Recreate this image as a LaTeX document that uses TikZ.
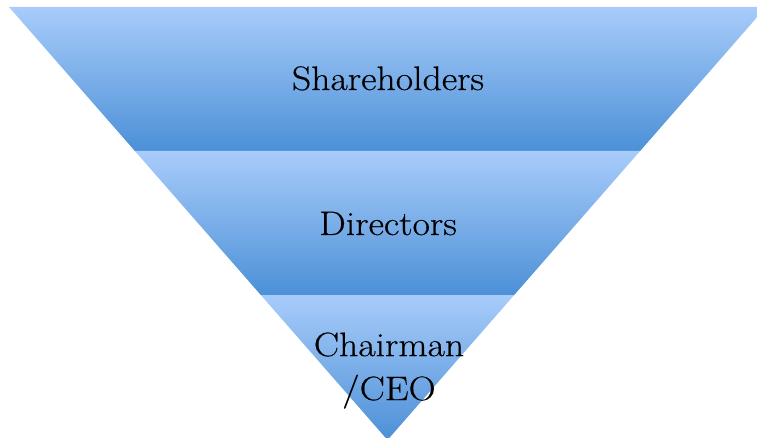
\documentclass[tikz,border=0pt]{standalone}
\usepackage{fontspec}
\newfontfamily\widefont[FakeStretch=1.11, FakeBold=0.4]{Latin Modern Roman}
\definecolor{bandtop}{RGB}{168,204,250}
\definecolor{bandbot}{RGB}{76,144,215}
\tikzset{
  band/.style={top color=bandtop, bottom color=bandbot, draw=none},
  label/.style={font=\widefont\fontsize{34}{44}\selectfont, text=black, inner sep=0pt, align=center}
}
\begin{document}
\begin{tikzpicture}[x=1pt,y=-1pt]
\useasboundingbox (0,0) rectangle (757,438);
\clip (0,0) rectangle (757,438);
% edges of the inverted triangle
\coordinate (tl) at (9,7);
\coordinate (tr) at (766,7);
\coordinate (apex) at (387.5,440);
\coordinate (l1) at (134.9,151);
\coordinate (r1) at (640.1,151);
\coordinate (l2) at (260.8,295);
\coordinate (r2) at (514.2,295);
\shade[band] (tl) -- (tr) -- (r1) -- (l1) -- cycle;
\shade[band] (l1) -- (r1) -- (r2) -- (l2) -- cycle;
\shade[band] (l2) -- (r2) -- (apex) -- cycle;
\node[label, anchor=base] (share) at (388,90) {Shareholders};
\node[label, anchor=base] (dir) at (388,235) {Directors};
\node[label, anchor=center] (ceo) at (389,370.5) {Chairman\\/CEO};
\end{tikzpicture}
\end{document}
